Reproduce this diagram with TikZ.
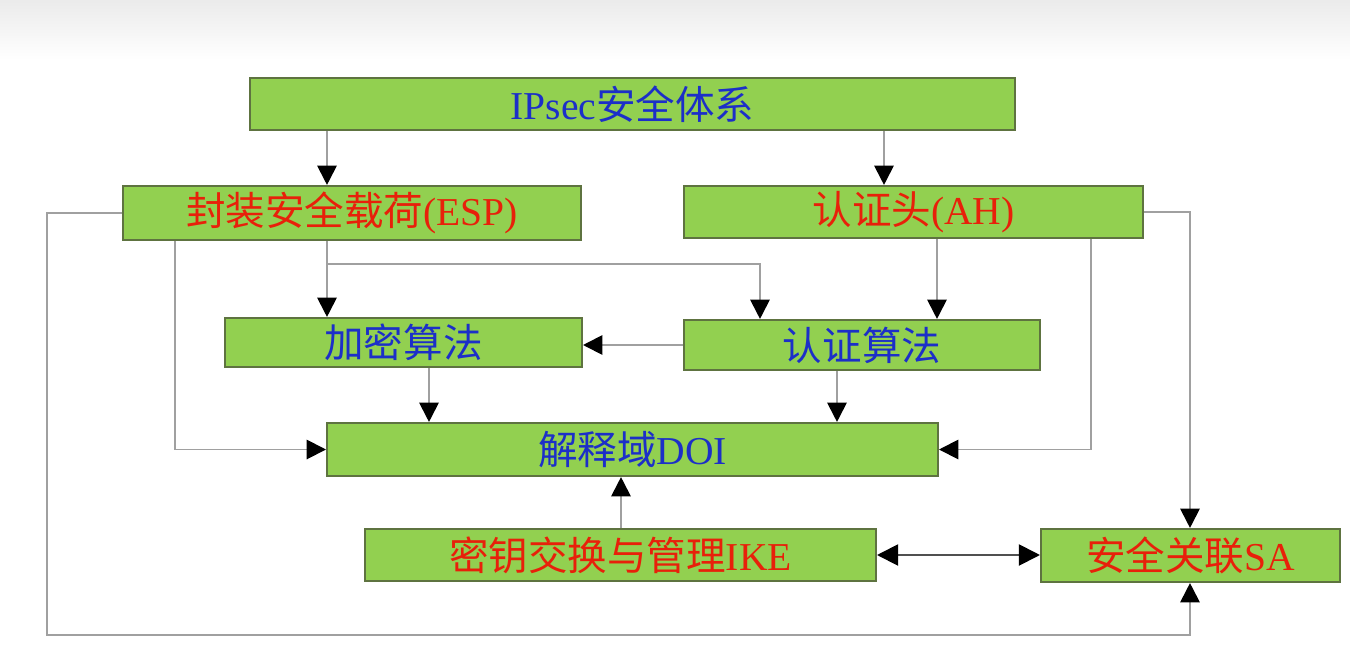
\documentclass[tikz,border=0pt]{standalone}
\usepackage{fontspec}
\setmainfont{Liberation Serif}
\newfontfamily\cjk{Noto Sans CJK SC}
\usetikzlibrary{arrows.meta}
\definecolor{boxgreen}{HTML}{92D050}
\definecolor{boxline}{HTML}{5E7340}
\definecolor{connc}{HTML}{A0A0A0}
\definecolor{darkc}{HTML}{505050}
\definecolor{tblue}{HTML}{1C2FC8}
\definecolor{tred}{HTML}{E8200A}
\begin{document}
\begin{tikzpicture}[x=0.02cm,y=-0.02cm,
 box/.style={draw=boxline, line width=1.2pt, fill=boxgreen, inner sep=0pt, font=\fontsize{22.5}{26}\selectfont},
 bluet/.style={text=tblue},
 redt/.style={text=tred},
 conn/.style={draw=connc, line width=1.1pt, -{Triangle[length=11pt,width=11pt,color=black]}},
 dconn/.style={draw=darkc, line width=1.1pt, {Triangle[length=12pt,width=12pt,color=black]}-{Triangle[length=12pt,width=12pt,color=black]}}
]
\useasboundingbox (0,0) rectangle (1350,660);
\shade[top color=black!8, bottom color=white] (0,0) rectangle (1350,60);

\node[box,bluet,minimum width=15.3cm,minimum height=1.04cm] (ipsec) at (632.5,104) {IPsec{\cjk 安全体系}};
\node[box,redt,minimum width=9.16cm,minimum height=1.08cm] (esp) at (352,213) {{\cjk 封装安全载荷}(ESP)};
\node[box,redt,minimum width=9.18cm,minimum height=1.04cm] (ah) at (913.5,212) {{\cjk 认证头}(AH)};
\node[box,bluet,minimum width=7.14cm,minimum height=0.98cm] (jm) at (403.5,342.5) {\cjk 加密算法};
\node[box,bluet,minimum width=7.12cm,minimum height=1.0cm] (rz) at (862,345) {\cjk 认证算法};
\node[box,bluet,minimum width=12.22cm,minimum height=1.06cm] (doi) at (632.5,449.5) {{\cjk 解释域}DOI};
\node[box,redt,minimum width=10.22cm,minimum height=1.04cm] (ike) at (620.5,555) {{\cjk 密钥交换与管理}IKE};
\node[box,redt,minimum width=5.98cm,minimum height=1.06cm] (sa) at (1190.5,555.5) {{\cjk 安全关联}SA};

\coordinate (X47) at (47,0);
\coordinate (X175) at (175,0);
\coordinate (X327) at (327,0);
\coordinate (X429) at (429,0);
\coordinate (X621) at (621,0);
\coordinate (X760) at (760,0);
\coordinate (X837) at (837,0);
\coordinate (X884) at (884,0);
\coordinate (X937) at (937,0);
\coordinate (X1091) at (1091,0);
\coordinate (X1190) at (1190,0);
\coordinate (Y264) at (0,264);
\coordinate (Y635) at (0,635);

\draw[conn] (ipsec.south -| X327) -- (esp.north -| X327);
\draw[conn] (ipsec.south -| X884) -- (ah.north -| X884);
\draw[conn] (esp.west) -- (esp.west -| X47) -- (X47 |- Y635) -- (X1190 |- Y635) -- (sa.south -| X1190);
\draw[conn] (ah.east) -- (ah.east -| X1190) -- (sa.north -| X1190);
\draw[conn] (esp.south -| X175) -- (X175 |- doi.west) -- (doi.west);
\draw[conn] (esp.south -| X327) -- (jm.north -| X327);
\draw[conn] (X327 |- Y264) -- (X760 |- Y264) -- (rz.north -| X760);
\draw[conn] (ah.south -| X937) -- (rz.north -| X937);
\draw[conn] (ah.south -| X1091) -- (X1091 |- doi.east) -- (doi.east);
\draw[conn] (rz.west) -- (rz.west -| jm.east);
\draw[conn] (jm.south -| X429) -- (doi.north -| X429);
\draw[conn] (rz.south -| X837) -- (doi.north -| X837);
\draw[conn] (ike.north -| X621) -- (doi.south -| X621);
\draw[dconn] (ike.east) -- (ike.east -| sa.west);
\end{tikzpicture}
\end{document}
